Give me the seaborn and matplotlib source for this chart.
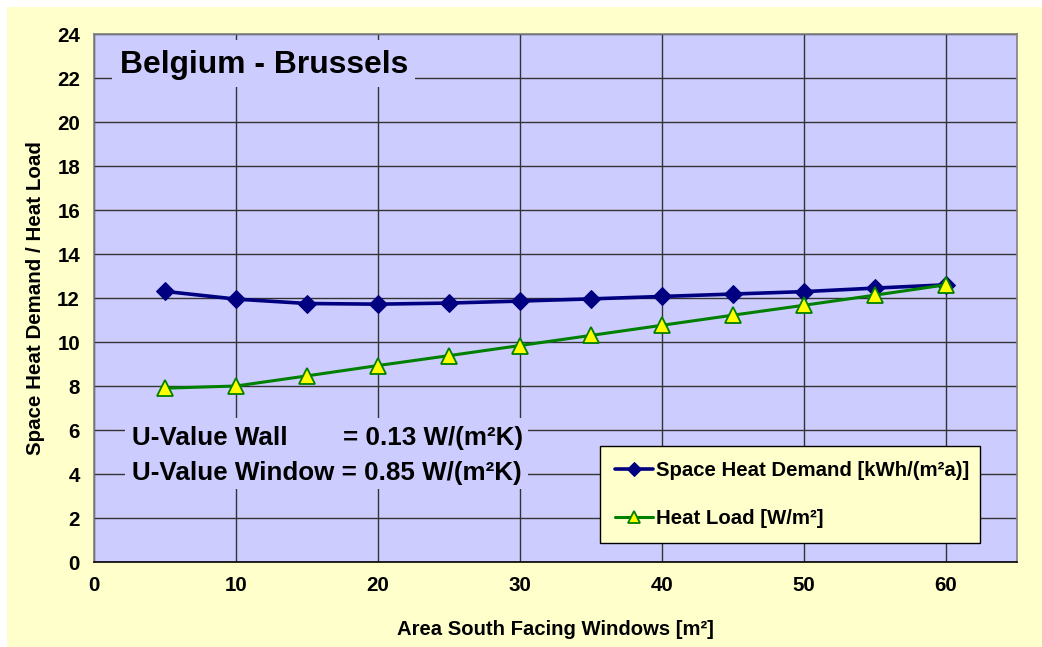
import matplotlib
matplotlib.use("Agg")
import matplotlib.pyplot as plt
from matplotlib.patches import Rectangle
import pandas as pd
import seaborn as sns

# Data: south-facing window area vs. heating indicators (Brussels)
window_area = [5, 10, 15, 20, 25, 30, 35, 40, 45, 50, 55, 60]
space_heat_demand = [12.30, 11.95, 11.75, 11.72, 11.77, 11.86, 11.96, 12.07, 12.18, 12.29, 12.45, 12.60]
heat_load = [7.90, 8.00, 8.46, 8.93, 9.38, 9.84, 10.30, 10.76, 11.22, 11.67, 12.13, 12.60]

demand_label = "Space Heat Demand [kWh/(m²a)]"
load_label = "Heat Load [W/m²]"
x_ticks = list(range(0, 61, 10))
y_ticks = list(range(0, 25, 2))

df = pd.DataFrame({"area": window_area,
                   demand_label: space_heat_demand,
                   load_label: heat_load})
long_df = df.melt(id_vars="area", var_name="series", value_name="value")

sns.set_theme(style="white")
plt.rcParams["font.family"] = ["Liberation Sans", "DejaVu Sans"]
plt.rcParams["font.weight"] = "bold"
for key in ("text.color", "axes.labelcolor", "xtick.color", "ytick.color"):
    plt.rcParams[key] = "black"

fig = plt.figure(figsize=(10.42, 6.47), dpi=100, facecolor="white")
# pale yellow chart area
fig.patches.append(Rectangle((7 / 1042, 0), 1 - 7 / 1042, 1 - 7 / 647,
                             transform=fig.transFigure, facecolor="#FFFFCC",
                             edgecolor="none", zorder=-10))

ax = fig.add_axes([94 / 1042, 1 - 562 / 647, 923 / 1042, 528 / 647])
ax.set_facecolor("#CCCCFF")

sns.lineplot(data=long_df, x="area", y="value", hue="series", style="series",
             palette={demand_label: "#000080", load_label: "#008000"},
             markers={demand_label: "D", load_label: "^"},
             dashes=False, ax=ax, legend=False, zorder=5)

lines = ax.get_lines()
lines[0].set_linewidth(2.6)
lines[0].set_markersize(9.5)
lines[0].set_markerfacecolor("#000080")
lines[0].set_markeredgecolor("#000080")
lines[1].set_linewidth(2.2)
lines[1].set_markersize(11)
lines[1].set_markerfacecolor("#FFFF00")
lines[1].set_markeredgecolor("#008000")
lines[1].set_markeredgewidth(1.3)

ax.set_xlim(0, 65)
ax.set_ylim(0, 24)
ax.set_xticks(x_ticks)
ax.set_yticks(y_ticks)
ax.grid(True, color="#333333", linewidth=1.0, zorder=1)
ax.set_axisbelow(True)

for side in ("left", "top", "right"):
    ax.spines[side].set_color("#808080")
    ax.spines[side].set_linewidth(1.2)
ax.spines["bottom"].set_color("#000000")
ax.spines["bottom"].set_linewidth(1.2)

ax.tick_params(axis="both", direction="inout", length=12, width=1.0,
               color="#000000", labelcolor="black", labelsize=14.8, pad=4)
for lab in ax.get_xticklabels() + ax.get_yticklabels():
    lab.set_fontweight("bold")

ax.set_xlabel("Area South Facing Windows [m²]", fontsize=14.6,
              fontweight="bold", labelpad=18, color="black")
ax.set_ylabel("Space Heat Demand / Heat Load", fontsize=14.8,
              fontweight="bold", labelpad=9, color="black")

# title box with plot-area fill, hiding the grid behind it
ax.add_patch(Rectangle((18 / 923, 475 / 528), 303 / 923, 47 / 528,
                       transform=ax.transAxes, facecolor="#CCCCFF",
                       edgecolor="none", zorder=3))
ax.text(26 / 923, (562 - 65) / 528, "Belgium - Brussels", transform=ax.transAxes,
        fontsize=22.9, fontweight="bold", va="center", ha="left", zorder=4)

# U-value annotation box
ax.add_patch(Rectangle((31 / 923, 73 / 528), 403 / 923, 71 / 528,
                       transform=ax.transAxes, facecolor="#CCCCFF",
                       edgecolor="none", zorder=3))
ax.text(38 / 923, (562 - 438) / 528, "U-Value Wall", transform=ax.transAxes,
        fontsize=18.7, fontweight="bold", va="center", ha="left", zorder=4)
ax.text(429 / 923, (562 - 438) / 528, "= 0.13 W/(m²K)", transform=ax.transAxes,
        fontsize=18.7, fontweight="bold", va="center", ha="right", zorder=4)
ax.text(38 / 923, (562 - 473) / 528, "U-Value Window = 0.85 W/(m²K)",
        transform=ax.transAxes, fontsize=18.7, fontweight="bold",
        va="center", ha="left", zorder=4)

leg = ax.legend(lines, [demand_label, load_label],
                loc="upper left",
                bbox_to_anchor=(506 / 923, 116 / 528, 380 / 923, 0),
                mode="expand", prop={"weight": "bold", "size": 14.7},
                frameon=True, fancybox=False, shadow=False,
                facecolor="#FFFFCC", edgecolor="#000000", framealpha=1,
                borderaxespad=0, borderpad=0.75, labelspacing=1.4,
                handlelength=1.85, handletextpad=0.15, markerscale=0.75)
leg.get_frame().set_linewidth(1.0)
leg.set_zorder(6)

fig.savefig("out.png", dpi=100, facecolor=fig.get_facecolor())
